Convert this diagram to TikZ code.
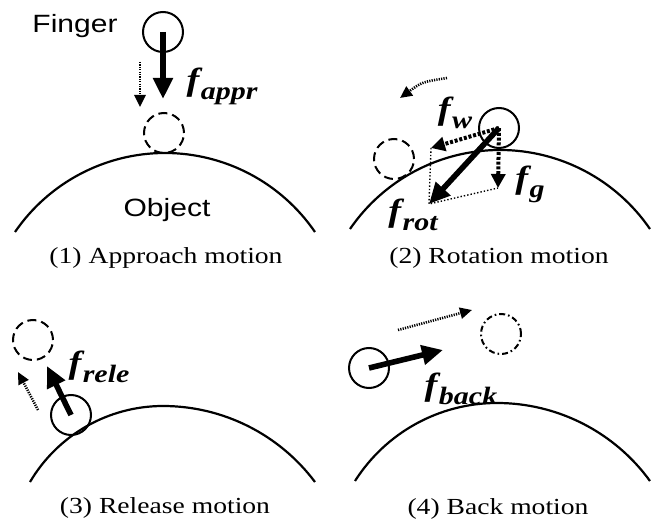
\documentclass[tikz,border=0pt]{standalone}
\usepackage{fontspec}
\setmainfont{Liberation Serif}
\newfontfamily\arialfont{Liberation Sans}
\usepackage{graphicx}
\usetikzlibrary{arrows.meta}
\newcommand\wide[1]{\scalebox{1.2}[1]{#1}}
\newcommand\fsub[1]{\wide{\fontsize{16}{16}\selectfont\bfseries\itshape f\kern0.6pt\raisebox{-0.6ex}{\fontsize{12.5}{12.5}\selectfont #1}}}
% object surface: top x, top y, left half width, right half width, drop
\newcommand\objarc[5]{%
  \draw[objline] ({#1-#3},{#2+#5})
    arc[start angle={-90-asin(2*(#3/#5)/((#3/#5)^2+1))}, end angle=-90,
        radius={#5*((#3/#5)^2+1)/2}]
    arc[start angle=-90, end angle={-90+asin(2*(#4/#5)/((#4/#5)^2+1))},
        radius={#5*((#4/#5)^2+1)/2}];}

\begin{document}
\begin{tikzpicture}[x=0.5pt, y=-0.5pt,
    finger/.style={circle, draw, line width=1pt, minimum size=20pt, inner sep=0pt},
    ghost/.style={finger, dash pattern=on 4.5pt off 2.5pt},
    ghostdot/.style={finger, dash pattern=on 3pt off 1.5pt on 0.8pt off 1.5pt},
    force/.style={line width=2.8pt, -{Triangle[length=10.5pt,width=9.5pt]}},
    comp/.style={line width=2pt, dash pattern=on 1.5pt off 0.9pt, -{Triangle[length=7pt,width=7pt]}},
    move/.style={line width=1.3pt, dash pattern=on 0.6pt off 0.6pt, -{Triangle[length=6pt,width=5.5pt]}},
    para/.style={line width=0.7pt, densely dotted},
    objline/.style={line width=1.1pt},
    caption/.style={font=\fontsize{11.5}{13}\selectfont},
    tag/.style={font=\arialfont\fontsize{12.5}{14}\selectfont}]
\useasboundingbox (0,0) rectangle (653,523);

% (1) approach
\objarc{165}{153}{150}{150}{79}
\node[tag] (fingertag) at (75,26) {\wide{Finger}};
\node[tag] (objtag) at (167,210) {\wide{Object}};
\node[finger] (fin1) at (163,32) {};
\node[ghost] (fin1t) at (164,133) {};
\coordinate (appr) at (163,99);
\coordinate (mv1a) at (140,62);
\coordinate (mv1b) at (140,107);
\draw[force] (fin1.center) -- (appr);
\draw[move] (mv1a) -- (mv1b);
\node (fappr) at (222,86) {\fsub{appr}};
\node[caption] (cap1) at (166,258) {\wide{(1) Approach motion}};

% (2) rotation
\objarc{500}{150}{150}{150}{79}
\node[finger] (fin2) at (499,128) {};
\node[ghost] (fin2t) at (394,159) {};
\coordinate (w2) at (431,148);
\coordinate (g2) at (498,188);
\coordinate (r2) at (429,204);
\coordinate (mv2a) at (447,78);
\coordinate (mv2b) at (400,98);
\draw[para] (w2) -- (r2) -- (g2);
\draw[comp] (fin2.center) -- (w2);
\draw[comp] (fin2.center) -- (g2);
\draw[force] (fin2.center) -- (r2);
\draw[move] (mv2a) .. controls (422,82) .. (mv2b);
\node (fw) at (455,113) {\fsub{w}};
\node (fg) at (530,184) {\fsub{g}};
\node (frot) at (413,215) {\fsub{rot}};
\node[caption] (cap2) at (499,258) {\wide{(2) Rotation motion}};

% (3) release
\objarc{163}{406}{133}{152}{76}
\node[finger] (fin3) at (71,415) {};
\node[ghost] (fin3t) at (33,340) {};
\coordinate (rele) at (47,366);
\coordinate (mv3a) at (38,410);
\coordinate (mv3b) at (18,372);
\draw[force] (fin3.center) -- (rele);
\draw[move] (mv3a) -- (mv3b);
\node (frele) at (99,367) {\fsub{rele}};
\node[caption] (cap3) at (165,508) {\wide{(3) Release motion}};

% (4) back
\objarc{497}{403}{142}{153}{78}
\node[finger] (fin4) at (369,368) {};
\node[ghostdot] (fin4t) at (501,334) {};
\coordinate (back) at (443,350);
\coordinate (mv4a) at (398,330);
\coordinate (mv4b) at (472,310);
\draw[force] (fin4.center) -- (back);
\draw[move] (mv4a) -- (mv4b);
\node (fback) at (461,389) {\fsub{back}};
\node[caption] (cap4) at (498,509) {\wide{(4) Back motion}};
\end{tikzpicture}
\end{document}
